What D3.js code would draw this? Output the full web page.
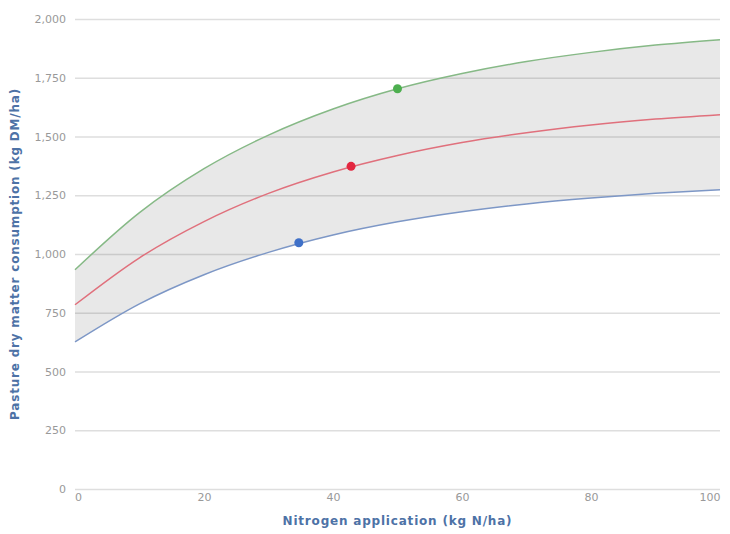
<!DOCTYPE html>
<html>
<head>
<meta charset="utf-8">
<script src="https://cdn.jsdelivr.net/npm/d3@7"></script>
<style>
  body { margin: 0; background: #fff; }
  text { font-family: "DejaVu Sans", Verdana, sans-serif; }
</style>
</head>
<body>
<div id="chart"></div>
<script>
// chart data
var nitrogen = [0, 10, 20, 30, 40, 50, 60, 70, 80, 90, 100];
var upper = [933, 1176, 1363, 1506, 1617, 1703, 1768, 1819, 1858, 1889, 1912];
var middle = [784, 984, 1138, 1258, 1349, 1419, 1474, 1516, 1549, 1574, 1593];
var lower = [626, 788, 912, 1007, 1081, 1137, 1180, 1213, 1238, 1258, 1273];
var markers = [
  {x: 50, y: 1703, c: "#4daf4f"},
  {x: 42.8, y: 1373, c: "#e3263f"},
  {x: 34.7, y: 1048, c: "#3f70c8"}
];
var yTicks = [0, 250, 500, 750, 1000, 1250, 1500, 1750, 2000];
var xTicks = [0, 20, 40, 60, 80, 100];

var svgWidth = 730, svgHeight = 534;
var margin = {top: 19, right: 10, bottom: 45, left: 75};
var width = svgWidth - margin.left - margin.right;
var height = svgHeight - margin.top - margin.bottom;

var svg = d3.select("#chart").append("svg")
  .attr("width", svgWidth)
  .attr("height", svgHeight);

var chart = svg.append("g")
  .attr("transform", `translate(${margin.left}, ${margin.top})`);

var x = d3.scaleLinear().domain([0, 100]).range([0, width]);
var y = d3.scaleLinear().domain([0, 2000]).range([height, 0]);

// grid lines + y labels
var yAxis = d3.axisLeft(y).tickValues(yTicks).tickSize(-width).tickPadding(9)
  .tickFormat(d3.format(","));
chart.append("g").call(yAxis)
  .call(g => g.select(".domain").remove())
  .call(g => g.selectAll(".tick line").attr("stroke", "#dedede").attr("stroke-width", 1.5))
  .call(g => g.selectAll(".tick text").attr("fill", "#999").attr("font-size", "11px"));

// x labels
var xAxis = d3.axisBottom(x).tickValues(xTicks).tickSize(0).tickPadding(4);
chart.append("g").attr("transform", `translate(0, ${height})`).call(xAxis)
  .call(g => g.select(".domain").remove())
  .call(g => g.selectAll(".tick text").attr("fill", "#999").attr("font-size", "11px"))
  .call(g => g.selectAll(".tick text").filter(d => d === 100).attr("text-anchor", "end"))
  .call(g => g.selectAll(".tick text").filter(d => d === 0).attr("dx", 3));

var rows = nitrogen.map((n, i) => ({n: n, up: upper[i], mid: middle[i], lo: lower[i]}));

// band between lower and upper
var area = d3.area()
  .x(d => x(d.n))
  .y0(d => y(d.lo))
  .y1(d => y(d.up))
  .curve(d3.curveMonotoneX);
chart.append("path").datum(rows)
  .attr("d", area)
  .attr("fill", "rgba(0,0,0,0.09)");

function drawLine(key, color) {
  var line = d3.line().x(d => x(d.n)).y(d => y(d[key])).curve(d3.curveMonotoneX);
  chart.append("path").datum(rows)
    .attr("d", line)
    .attr("fill", "none")
    .attr("stroke", color)
    .attr("stroke-width", 1.5);
}
drawLine("up", "#86b986");
drawLine("mid", "#e0707c");
drawLine("lo", "#7d97c6");

chart.selectAll("circle").data(markers).enter().append("circle")
  .attr("cx", d => x(d.x))
  .attr("cy", d => y(d.y))
  .attr("r", 4.5)
  .attr("fill", d => d.c);

// axis titles
svg.append("text")
  .attr("transform", `translate(19, ${margin.top + height / 2}) rotate(-90)`)
  .attr("text-anchor", "middle")
  .attr("fill", "#4d72a6")
  .attr("font-size", "12px")
  .attr("font-weight", "bold")
  .attr("letter-spacing", "0.8px")
  .text("Pasture dry matter consumption (kg DM/ha)");

svg.append("text")
  .attr("x", margin.left + width / 2)
  .attr("y", 525)
  .attr("text-anchor", "middle")
  .attr("fill", "#4d72a6")
  .attr("font-size", "12px")
  .attr("font-weight", "bold")
  .attr("letter-spacing", "0.8px")
  .text("Nitrogen application (kg N/ha)");
</script>
</body>
</html>
